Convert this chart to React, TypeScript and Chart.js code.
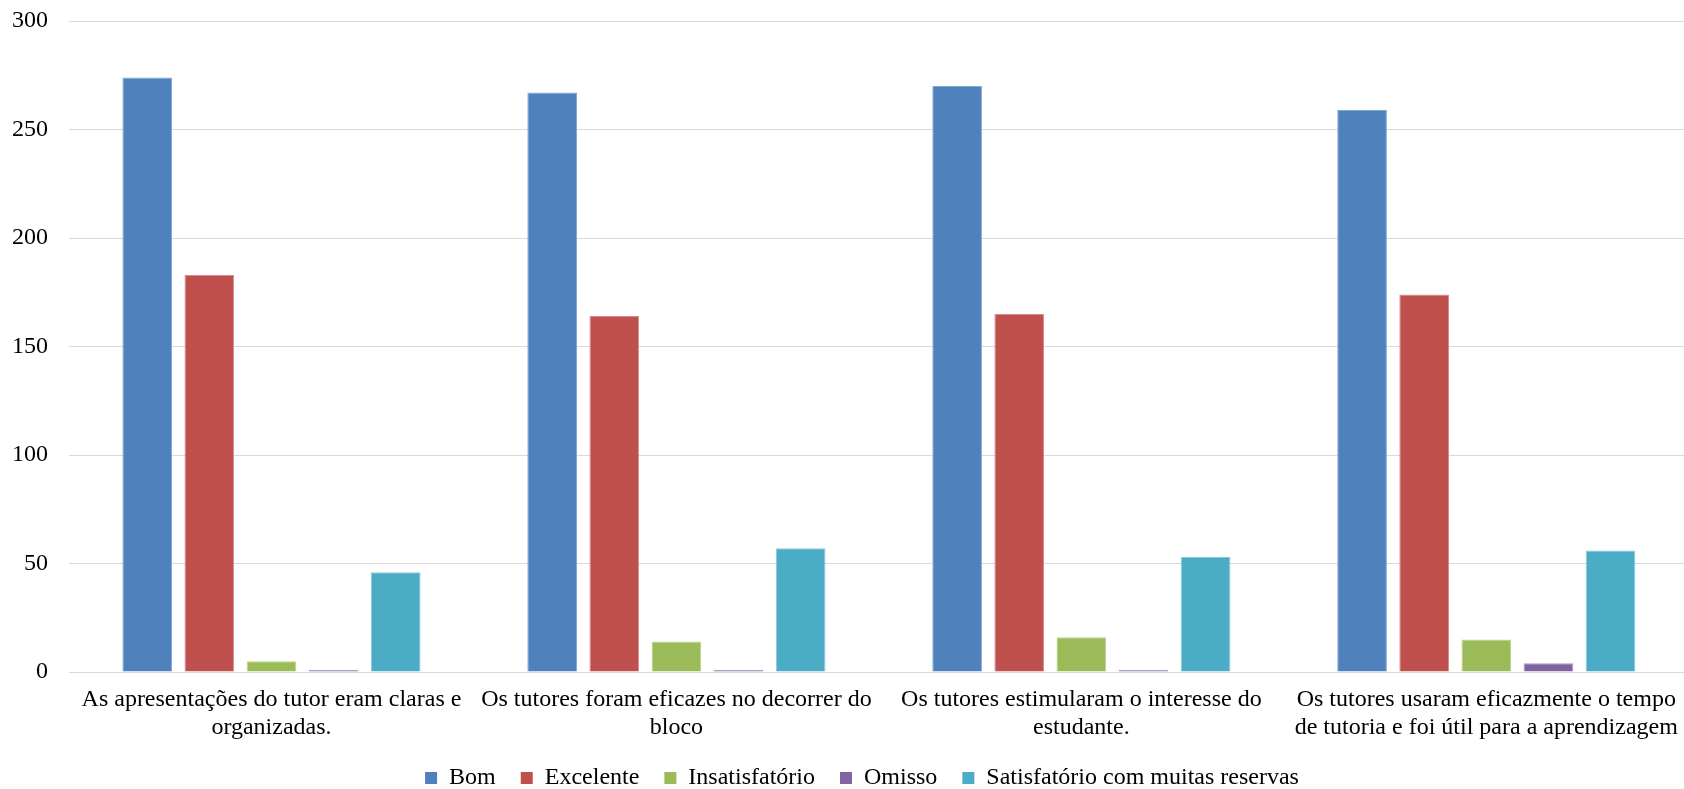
import React, { useEffect, useRef } from "react";
import { Chart, registerables } from "chart.js";

Chart.register(...registerables);

const categories: string[][] = [
  ["As apresentações do tutor eram claras e", "organizadas."],
  ["Os tutores foram eficazes no decorrer do", "bloco"],
  ["Os tutores estimularam o interesse do", "estudante."],
  ["Os tutores usaram eficazmente o tempo", "de tutoria e foi útil para a aprendizagem"],
];

const seriesNames = ["Bom", "Excelente", "Insatisfatório", "Omisso", "Satisfatório com muitas reservas"];
const bom = [274, 267, 270, 259];
const excelente = [183, 164, 165, 174];
const insatisfatorio = [5, 14, 16, 15];
const omisso = [1, 1, 1, 4];
const satisfatorio = [46, 57, 53, 56];
const seriesValues = [bom, excelente, insatisfatorio, omisso, satisfatorio];
const seriesColors = ["#4F81BD", "#C0504D", "#9BBB59", "#8064A2", "#4BACC6"];
const seriesEdgeColors = ["#83A8D4", "#D68D8B", "#BED393", "#AC9AC2", "#8AC8D9"];

const yMin = 0;
const yMax = 300;
const yStep = 50;

const FONT = "'Liberation Serif', 'Times New Roman', serif";

const PLOT_TOP = 21;
const EXTRA_RIGHT = 9;
const LEGEND_SHIFT = 20;

const layoutTweak = {
  id: "layoutTweak",
  afterLayout(chart: any) {
    const ca = chart.chartArea;
    const x = chart.scales.x;
    const y = chart.scales.y;
    ca.top = PLOT_TOP;
    ca.right += EXTRA_RIGHT;
    ca.width = ca.right - ca.left;
    ca.height = ca.bottom - ca.top;
    y.top = PLOT_TOP;
    y.height = y.bottom - y.top;
    y.configure();
    x.right += EXTRA_RIGHT;
    x.width = x.right - x.left;
    x.configure();
    const lg = chart.legend;
    if (lg) {
      lg.left += LEGEND_SHIFT;
      lg.right += LEGEND_SHIFT;
    }
  },
};

export default function App() {
  const ref = useRef<HTMLCanvasElement | null>(null);

  useEffect(() => {
    document.body.style.margin = "0";
    if (!ref.current) return;
    const chart = new Chart(ref.current, {
      type: "bar",
      data: {
        labels: categories,
        datasets: seriesNames.map((name, i) => ({
          label: name,
          data: seriesValues[i],
          backgroundColor: seriesColors[i],
          borderColor: seriesEdgeColors[i],
          borderWidth: 1,
          categoryPercentage: 0.767,
          barPercentage: 0.8,
        })),
      },
      plugins: [layoutTweak],
      options: {
        responsive: false,
        animation: false,
        maintainAspectRatio: false,
        layout: { padding: { left: 0, right: 0, top: 0, bottom: -11 } },
        plugins: {
          tooltip: { enabled: false },
          legend: {
            position: "bottom",
            labels: {
              color: "#000",
              font: { family: FONT, size: 24 },
              boxWidth: 12,
              boxHeight: 12,
              padding: 25,
              generateLabels: (c: any) =>
                Chart.defaults.plugins.legend.labels.generateLabels(c).map((l: any, i: number) => ({
                  ...l,
                  fillStyle: seriesColors[i],
                  strokeStyle: seriesColors[i],
                  lineWidth: 0,
                })),
            },
          },
        },
        scales: {
          x: {
            grid: { display: false, drawTicks: false },
            border: { display: true, color: "#D9D9D9", width: 1 },
            ticks: {
              color: "#000",
              font: { family: FONT, size: 24, lineHeight: 1.1667 },
              padding: 14,
              maxRotation: 0,
              autoSkip: false,
            },
            afterFit: (s: any) => {
              s.height = 69;
            },
          },
          y: {
            min: yMin,
            max: yMax,
            grid: { color: "#D9D9D9", lineWidth: 1, drawTicks: false },
            border: { display: false },
            ticks: {
              stepSize: yStep,
              color: "#000",
              font: { family: FONT, size: 24 },
              padding: 21,
            },
            afterFit: (s: any) => {
              s.width = 69;
            },
          },
        },
      },
    });
    return () => chart.destroy();
  }, []);

  return (
    <div style={{ width: 1684, height: 789 }}>
      <canvas ref={ref} width={1684} height={789} style={{ width: 1684, height: 789 }} />
    </div>
  );
}
